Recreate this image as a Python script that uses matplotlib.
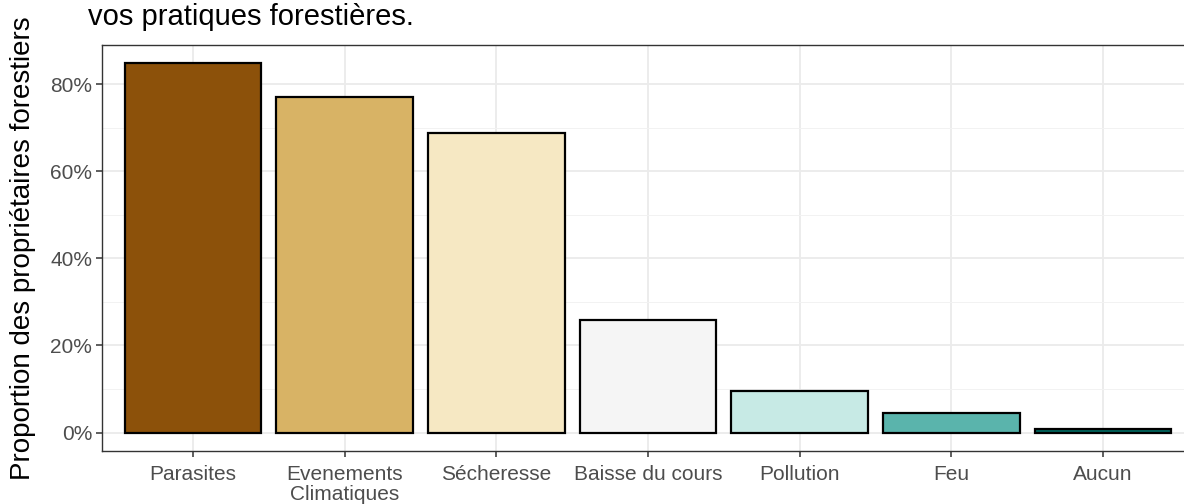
import matplotlib
matplotlib.use("Agg")
import matplotlib.pyplot as plt
from matplotlib.ticker import FuncFormatter, MultipleLocator

categories = ["Parasites", "Evenements\nClimatiques", "Sécheresse", "Baisse du cours",
              "Pollution", "Feu", "Aucun"]
values = [84.8, 77.0, 68.9, 25.9, 9.6, 4.6, 0.9]
colors = ["#8C510A", "#D8B365", "#F6E8C3", "#F5F5F5", "#C7EAE5", "#5AB4AC", "#01665E"]

plt.rcParams["font.family"] = ["Liberation Sans", "DejaVu Sans"]

fig = plt.figure(figsize=(11.84, 5.04), dpi=100, facecolor="white")
ax = fig.add_axes([0.0861, 0.1052, 0.9223, 0.8056])

x = list(range(len(categories)))
ax.bar(x, values, width=0.9, color=colors, edgecolor="black", linewidth=1.6, zorder=3)

ax.set_xlim(-0.6, len(categories) - 0.4)
ymax = max(values)
ax.set_ylim(-0.05 * ymax, 1.05 * ymax)

ax.yaxis.set_major_locator(MultipleLocator(20))
ax.yaxis.set_minor_locator(MultipleLocator(10))
ax.yaxis.set_major_formatter(FuncFormatter(lambda v, p: f"{v:.0f}%"))
ax.set_xticks(x)
ax.set_xticklabels(categories, linespacing=1.1)

ax.grid(which="major", color="#EBEBEB", linewidth=1.3, zorder=0)
ax.grid(which="minor", axis="y", color="#F2F2F2", linewidth=0.7, zorder=0)
ax.set_axisbelow(True)

for s in ax.spines.values():
    s.set_color("#333333")
    s.set_linewidth(1.0)

ax.tick_params(axis="both", which="major", length=4, width=1.1, color="#333333",
               labelcolor="#4D4D4D", labelsize=15, pad=3)
ax.tick_params(axis="x", which="major", pad=6)
ax.tick_params(axis="y", which="minor", length=0)

ax.set_ylabel("Proportion des propriétaires forestiers", fontsize=20, color="black", labelpad=10)

fig.text(0.0743, 0.950, "vos pratiques forestières.", fontsize=21, color="black",
         ha="left", va="baseline")

fig.savefig("out.png", dpi=100, facecolor="white")
